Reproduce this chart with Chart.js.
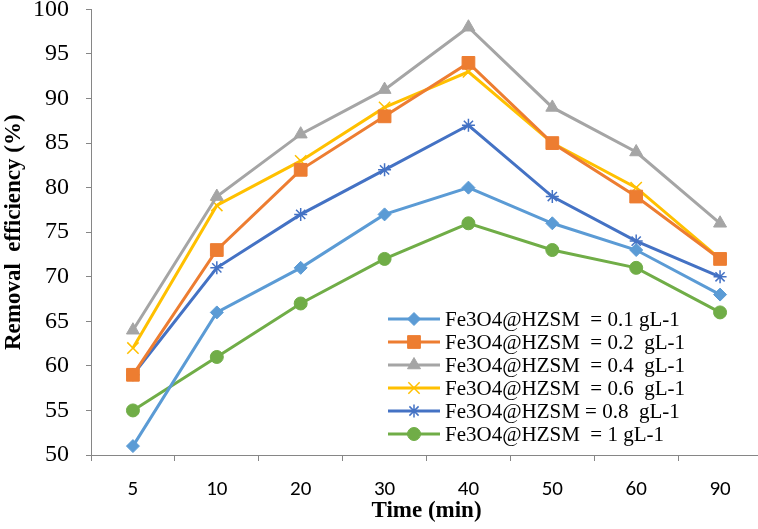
<!DOCTYPE html>
<html>
<head>
<meta charset="utf-8">
<script src="https://cdn.jsdelivr.net/npm/chart.js@4/dist/chart.umd.min.js"></script>
<style>
  html, body { margin: 0; padding: 0; background: #fff; overflow: hidden; }
  #wrap { width: 758px; height: 529px; overflow: hidden; position: relative; }
  #removalChart { position: absolute; left: 0; top: -22px; }
</style>
</head>
<body>
<div id="wrap"><canvas id="removalChart" width="772" height="552"></canvas></div>
<script>
// Data
const timeLabels = ['5', '10', '20', '30', '40', '50', '60', '90'];
const dose01 = [51, 66, 71, 77, 80, 76, 73, 68];
const dose02 = [59, 73, 82, 88, 94, 85, 79, 72];
const dose04 = [64, 79, 86, 91, 98, 89, 84, 76];
const dose06 = [62, 78, 83, 89, 93, 85, 80, 72];
const dose08 = [59, 71, 77, 82, 87, 79, 74, 70];
const dose10 = [55, 61, 67, 72, 76, 73, 71, 66];
const seriesNames = [
  'Fe3O4@HZSM  = 0.1 gL-1',
  'Fe3O4@HZSM  = 0.2  gL-1',
  'Fe3O4@HZSM  = 0.4  gL-1',
  'Fe3O4@HZSM  = 0.6  gL-1',
  'Fe3O4@HZSM = 0.8  gL-1',
  'Fe3O4@HZSM  = 1 gL-1'
];

const colors = ['#5B9BD5', '#ED7D31', '#A5A5A5', '#FFC000', '#4472C4', '#70AD47'];
const markers = ['rectRot', 'rect', 'triangle', 'crossRot', 'star', 'circle'];
const radii = [6.5, 9, 7.5, 8, 6.5, 6.5];
const serif = "'Liberation Serif', serif";

function makeSet(i, values) {
  return {
    label: seriesNames[i],
    data: values,
    borderColor: colors[i],
    backgroundColor: colors[i],
    borderWidth: 3,
    pointStyle: markers[i],
    pointRadius: radii[i],
    pointBorderWidth: (markers[i] === 'crossRot' || markers[i] === 'star') ? 1.5 : 1,
    tension: 0
  };
}

// draws the legend inside the plot, lower right, like the Excel original
const insideLegend = {
  id: 'insideLegend',
  afterDatasetsDraw(chart) {
    const c = chart.ctx;
    const x0 = 388, x1 = 440, y0 = 341, step = 23; // canvas is shifted up 22px
    c.save();
    c.textBaseline = 'middle';
    c.textAlign = 'left';
    chart.data.datasets.forEach((ds, i) => {
      const y = y0 + i * step;
      c.strokeStyle = ds.borderColor;
      c.lineWidth = 3;
      c.beginPath();
      c.moveTo(x0, y);
      c.lineTo(x1, y);
      c.stroke();
      c.fillStyle = ds.backgroundColor;
      c.strokeStyle = ds.borderColor;
      c.lineWidth = ds.pointBorderWidth;
      Chart.helpers.drawPoint(c, { pointStyle: ds.pointStyle, radius: ds.pointRadius, borderWidth: ds.pointBorderWidth }, (x0 + x1) / 2, y);
      c.font = '21px ' + serif;
      c.fillStyle = '#000';
      c.fillText(ds.label, 445, y + 1);
    });
    c.restore();
  }
};

function draw() {
  const ctx = document.getElementById('removalChart').getContext('2d');
  const removalChart = new Chart(ctx, {
    type: 'line',
    data: {
      labels: timeLabels,
      datasets: [
        makeSet(0, dose01),
        makeSet(1, dose02),
        makeSet(2, dose04),
        makeSet(3, dose06),
        makeSet(4, dose08),
        makeSet(5, dose10)
      ]
    },
    options: {
      responsive: false,
      animation: false,
      layout: { padding: { top: 0, right: 2, bottom: 7, left: 0 } },
      plugins: {
        legend: { display: false },
        tooltip: { enabled: false }
      },
      scales: {
        x: {
          offset: true,
          afterFit: (scale) => { scale.height = 68; }, // chart.js counts tick padding twice
          grid: { display: true, drawOnChartArea: false, drawTicks: true, tickLength: 6, color: '#868686', offset: true },
          border: { color: '#868686', width: 1 },
          ticks: { color: '#000', font: { family: 'Carlito, "Liberation Sans", sans-serif', size: 21, lineHeight: 1 }, padding: 18 },
          title: { display: true, text: 'Time (min)', color: '#000', padding: { top: 0, bottom: 0 },
            font: { family: serif, size: 23, weight: 'bold', lineHeight: 1 } }
        },
        y: {
          min: 50,
          max: 100,
          afterFit: (scale) => { scale.width = 91; },
          ticks: { stepSize: 5, color: '#000', padding: 17, font: { family: serif, size: 24 } },
          grid: { display: true, drawOnChartArea: false, drawTicks: true, tickLength: 5, color: '#868686' },
          border: { color: '#868686', width: 1 },
          title: { display: true, text: 'Removal  efficiency (%)', color: '#000', padding: { top: 0, bottom: 0 },
            font: { family: serif, size: 23, weight: 'bold' } }
        }
      }
    },
    plugins: [insideLegend]
  });
}

Promise.all([
  document.fonts.load("21px 'Liberation Serif'"),
  document.fonts.load("bold 23px 'Liberation Serif'"),
  document.fonts.load("21px 'Liberation Sans'")
]).then(draw, draw);
</script>
</body>
</html>
